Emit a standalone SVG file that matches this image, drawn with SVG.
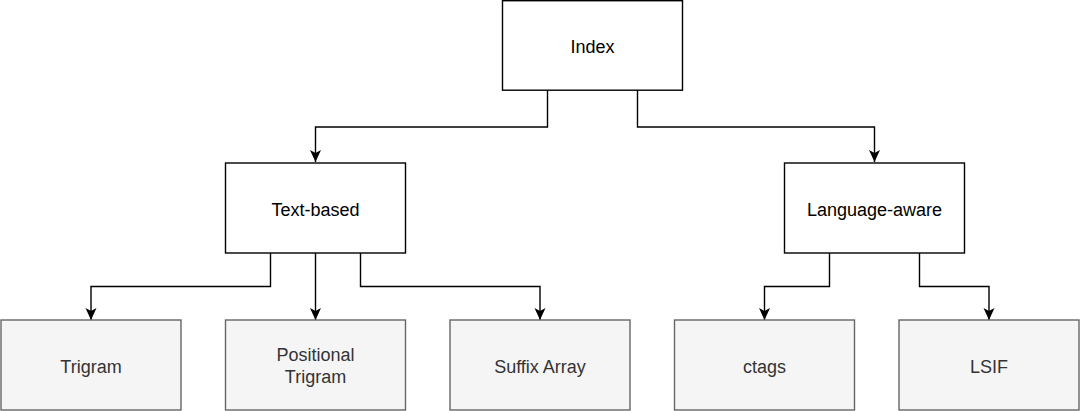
<svg xmlns="http://www.w3.org/2000/svg" width="1080" height="411" viewBox="0 0 1080 411">
<style>
.p{fill:#ffffff;stroke:#000000;stroke-width:1.4}
.c{fill:#f5f5f5;stroke:#666666;stroke-width:1.4}
.t{font-family:"Liberation Sans",Arial,sans-serif;font-size:18px;text-anchor:middle;fill:#000000}
.tc{font-family:"Liberation Sans",Arial,sans-serif;font-size:18px;text-anchor:middle;fill:#333333}
.e{fill:none;stroke:#000000;stroke-width:1.4}
</style>
<defs>
<marker id="a" viewBox="0 0 12 12" refX="12" refY="6" markerWidth="12" markerHeight="12" markerUnits="userSpaceOnUse" orient="auto">
<path d="M0,0.5 L12,6 L0,11.5 L3,6 Z" fill="#000000"/>
</marker>
</defs>
<rect width="1080" height="411" fill="#ffffff"/>
<g id="connectors">
<path class="e" d="M547.5,90 V127 H315.5 V162" marker-end="url(#a)"/>
<path class="e" d="M637.5,90 V127 H874.5 V162" marker-end="url(#a)"/>
<path class="e" d="M270.5,253 V286.5 H91 V320" marker-end="url(#a)"/>
<path class="e" d="M315.5,253 V320" marker-end="url(#a)"/>
<path class="e" d="M360.5,253 V286.5 H540 V320" marker-end="url(#a)"/>
<path class="e" d="M829.5,253 V286.5 H764.5 V320" marker-end="url(#a)"/>
<path class="e" d="M919.5,253 V286.5 H989 V320" marker-end="url(#a)"/>
</g>
<g id="index"><rect class="p" x="502.5" y="0.7" width="180" height="89.5"/><text class="t" x="592.5" y="52.5">Index</text></g>
<g id="text-based"><rect class="p" x="225.5" y="163" width="180" height="90"/><text class="t" x="315.5" y="215.5">Text-based</text></g>
<g id="language-aware"><rect class="p" x="784.5" y="163" width="180" height="90"/><text class="t" x="874.5" y="215.5">Language-aware</text></g>
<g id="trigram"><rect class="c" x="1" y="320" width="180" height="90"/><text class="tc" x="91" y="372.5">Trigram</text></g>
<g id="positional-trigram"><rect class="c" x="225.5" y="320" width="180" height="90"/><text class="tc" x="315.5" y="361">Positional</text><text class="tc" x="315.5" y="383">Trigram</text></g>
<g id="suffix-array"><rect class="c" x="450" y="320" width="180" height="90"/><text class="tc" x="540" y="372.5">Suffix Array</text></g>
<g id="ctags"><rect class="c" x="674.5" y="320" width="180" height="90"/><text class="tc" x="764.5" y="372.5">ctags</text></g>
<g id="lsif"><rect class="c" x="899" y="320" width="180" height="90"/><text class="tc" x="989" y="372.5">LSIF</text></g>
</svg>
